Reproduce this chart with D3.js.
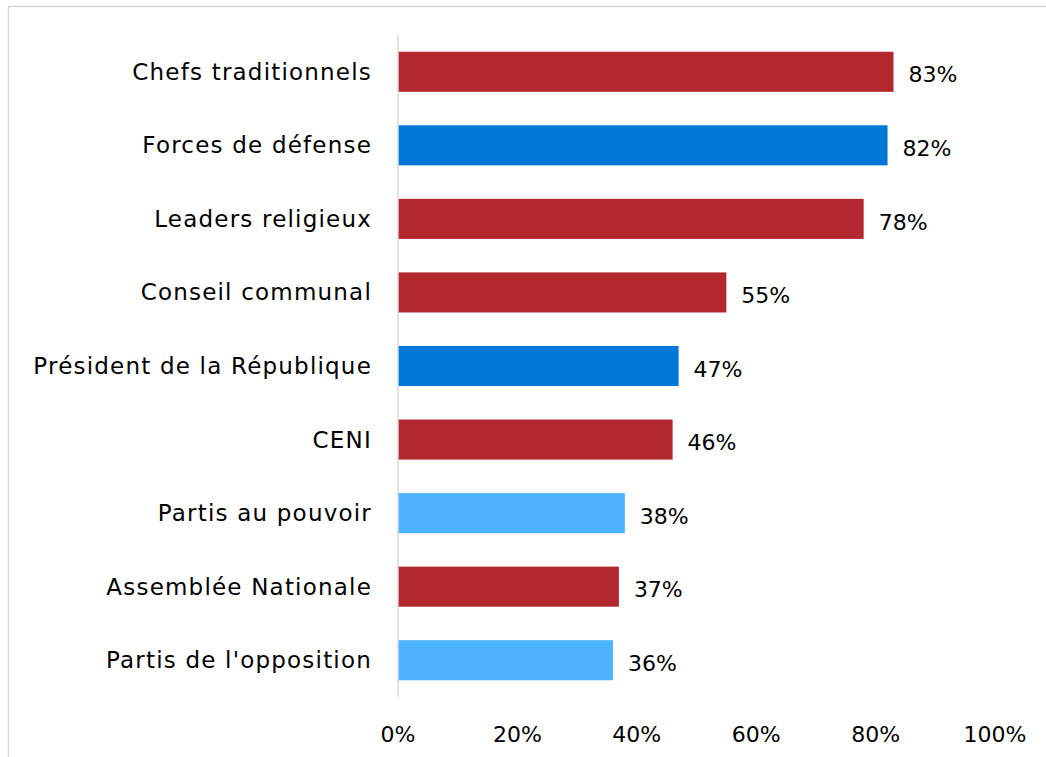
<!DOCTYPE html>
<html><head><meta charset="utf-8">
<script src="https://cdn.jsdelivr.net/npm/d3@7"></script>
<style>body{margin:0;background:#fff;}svg{display:block;}</style>
</head><body>
<svg id="c" width="1046" height="757"></svg>
<script>
const categories = ["Chefs traditionnels","Forces de défense","Leaders religieux","Conseil communal","Président de la République","CENI","Partis au pouvoir","Assemblée Nationale","Partis de l'opposition"];
const values = [83,82,78,55,47,46,38,37,36];
const groups = ["red","blue","red","red","blue","red","light","red","light"];
const ticks = [0,20,40,60,80,100];
const colorMap = {red:"#B3282E", blue:"#0078D7", light:"#4DB2FF"};

const svg = d3.select("#c");
const font = "'DejaVu Sans', sans-serif";
svg.append("rect").attr("x",8.5).attr("y",6.5).attr("width",1100).attr("height",800)
  .attr("fill","none").attr("stroke","#d9d9d9").attr("stroke-width",1.5);

const x = d3.scaleLinear().domain([0,100]).range([398,995]);
const y = d3.scaleBand().domain(categories).range([35,697]).paddingInner(0.455).paddingOuter(0.2275);

svg.selectAll("rect.bar").data(categories).join("rect").attr("class","bar")
  .attr("x",x(0)).attr("y",d=>y(d)).attr("height",y.bandwidth())
  .attr("width",(d,i)=>x(values[i])-x(0)).attr("fill",(d,i)=>colorMap[groups[i]]);

svg.append("line").attr("x1",x(0)).attr("x2",x(0)).attr("y1",35).attr("y2",697)
  .attr("stroke","#d9d9d9").attr("stroke-width",1.5);

svg.selectAll("text.cat").data(categories).join("text").attr("class","cat")
  .attr("x",372).attr("y",d=>y(d)+y.bandwidth()/2).attr("dy","0.35em")
  .attr("text-anchor","end").attr("font-family",font).attr("font-size",23)
  .attr("letter-spacing",1.2).attr("fill","#000").text(d=>d);

svg.selectAll("text.val").data(categories).join("text").attr("class","val")
  .attr("x",(d,i)=>x(values[i])+15).attr("y",d=>y(d)+y.bandwidth()/2+3).attr("dy","0.35em")
  .attr("font-family",font).attr("font-size",22).attr("fill","#000").text((d,i)=>values[i]+"%");

svg.selectAll("text.tick").data(ticks).join("text").attr("class","tick")
  .attr("x",d=>x(d)).attr("y",742).attr("text-anchor","middle")
  .attr("font-family",font).attr("font-size",22).attr("fill","#000").text(d=>d+"%");
</script>
</body></html>
